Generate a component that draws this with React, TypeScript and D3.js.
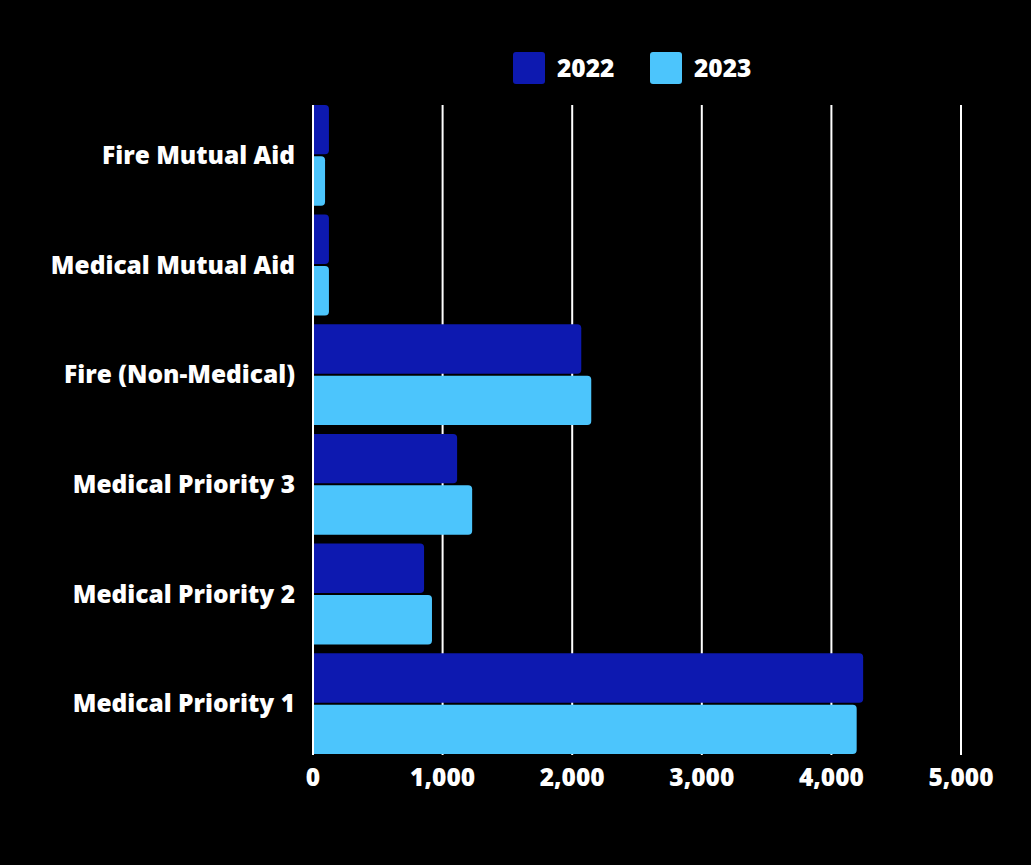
import * as d3 from "d3";
import { useEffect } from "react";

const categories = [
  "Fire Mutual Aid",
  "Medical Mutual Aid",
  "Fire (Non-Medical)",
  "Medical Priority 3",
  "Medical Priority 2",
  "Medical Priority 1",
];
const seriesNames = ["2022", "2023"];
const values2022 = [123, 123, 2070, 1112, 857, 4245];
const values2023 = [93, 123, 2147, 1228, 918, 4195];
const xTicks = [0, 1000, 2000, 3000, 4000, 5000];
const colors = ["#0d19b0", "#4cc5fc"];

const width = 1031;
const height = 865;
const font = "'Open Sans', 'DejaVu Sans', sans-serif";
const fontSize = 24.5;
const weight = 800;

// rect with rounded right corners only
function barPath(x0: number, x1: number, y: number, h: number, r: number) {
  const rr = Math.min(r, (x1 - x0) / 2, h / 2);
  return `M${x0},${y}H${x1 - rr}Q${x1},${y} ${x1},${y + rr}V${y + h - rr}Q${x1},${y + h} ${x1 - rr},${y + h}H${x0}Z`;
}

export default function App() {
  useEffect(() => {
    document.body.style.margin = "0";
    document.body.style.background = "#000";
  }, []);

  const x = d3.scaleLinear().domain([0, 5000]).range([313, 961]);
  const y0 = d3
    .scaleBand()
    .domain(categories)
    .range([100.5, 758.5])
    .paddingInner(0.08)
    .paddingOuter(0.04);
  const y1 = d3
    .scaleBand()
    .domain(seriesNames)
    .range([0, y0.bandwidth()])
    .paddingInner(0.04);
  const fmt = d3.format(",");
  const series = [values2022, values2023];

  const gridTop = 105;
  const gridBottom = 755;

  return (
    <svg width={width} height={height} style={{ display: "block", background: "#000" }}>
      <rect width={width} height={height} fill="#000" />
      {/* legend */}
      {seriesNames.map((s, i) => (
        <g key={s} transform={`translate(${513 + i * 137},52)`}>
          <rect width={32} height={32} rx={3} fill={colors[i]} />
          <text x={44} y={16} dy="0.35em" fill="#fff" fontFamily={font} fontWeight={weight} fontSize={fontSize}>
            {s}
          </text>
        </g>
      ))}
      {/* gridlines */}
      {xTicks.slice(1).map((t) => (
        <line key={t} x1={x(t)} x2={x(t)} y1={gridTop} y2={gridBottom} stroke="#fff" strokeWidth={2} />
      ))}
      {/* bars */}
      {categories.map((c, ci) => (
        <g key={c} transform={`translate(0,${y0(c)})`}>
          {seriesNames.map((s, si) => (
            <path
              key={s}
              d={barPath(x(0), x(series[si][ci]), y1(s) as number, y1.bandwidth(), 4)}
              fill={colors[si]}
            />
          ))}
        </g>
      ))}
      <line x1={x(0)} x2={x(0)} y1={gridTop} y2={gridBottom} stroke="#fff" strokeWidth={2} />
      {/* category labels */}
      {categories.map((c) => (
        <text
          key={c}
          x={295}
          y={(y0(c) as number) + y0.bandwidth() / 2}
          dy="0.35em"
          textAnchor="end"
          fill="#fff"
          fontFamily={font}
          fontWeight={weight}
          fontSize={fontSize}
        >
          {c}
        </text>
      ))}
      {/* x tick labels */}
      {xTicks.map((t) => (
        <text
          key={t}
          x={x(t)}
          y={777}
          dy="0.35em"
          textAnchor="middle"
          fill="#fff"
          fontFamily={font}
          fontWeight={weight}
          fontSize={fontSize}
        >
          {fmt(t)}
        </text>
      ))}
    </svg>
  );
}
